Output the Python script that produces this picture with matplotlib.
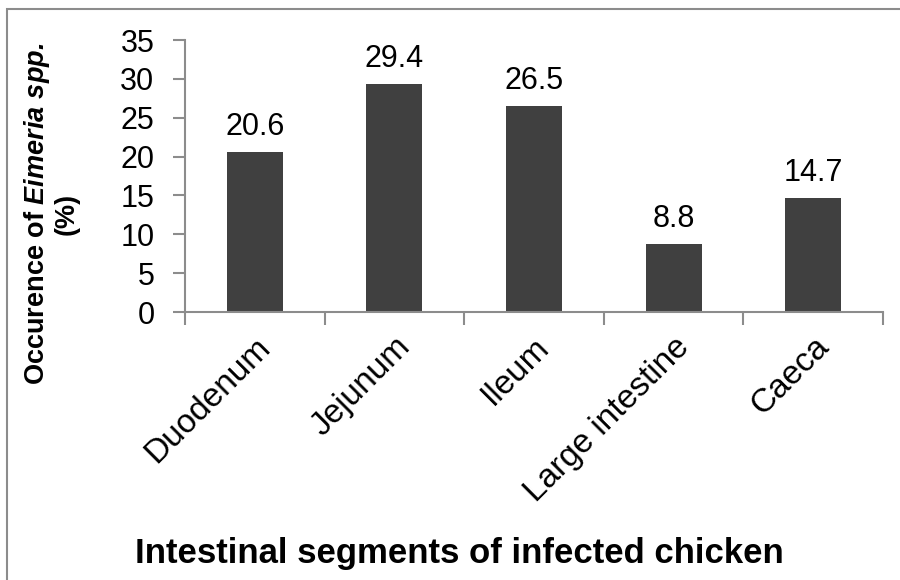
import matplotlib
matplotlib.use("Agg")
import matplotlib.pyplot as plt
from matplotlib.patches import Rectangle

# Dados
segmentos = ["Duodenum", "Jejunum", "Ileum", "Large intestine", "Caeca"]
ocorrencia = [20.6, 29.4, 26.5, 8.8, 14.7]
yticks = [0, 5, 10, 15, 20, 25, 30, 35]

plt.rcParams['font.family'] = ['Liberation Sans', 'DejaVu Sans']
plt.rcParams['mathtext.fontset'] = 'custom'
plt.rcParams['mathtext.rm'] = 'Liberation Sans:bold'
plt.rcParams['mathtext.bf'] = 'Liberation Sans:bold'
plt.rcParams['mathtext.bfit'] = 'Liberation Sans:bold:italic'
plt.rcParams['mathtext.it'] = 'Liberation Sans:bold:italic'

CINZA = '#8c8c8c'
BARRA = '#404040'

fig = plt.figure(figsize=(9, 5.8), dpi=100)
fig.patch.set_facecolor('white')

# moldura do gráfico (só aparecem topo e esquerda)
fig.add_artist(Rectangle((7/900, -0.05), 1.2, 1 - 9/580 + 0.05,
                         transform=fig.transFigure, fill=False,
                         edgecolor=CINZA, linewidth=1.5))

ax = fig.add_axes([185/900, 1 - 312/580, (883 - 185)/900, (312 - 40)/580])
pos = list(range(len(segmentos)))
ax.bar(pos, ocorrencia, width=0.4, color=BARRA, zorder=2)

for x, v in zip(pos, ocorrencia):
    ax.annotate(f"{v}", (x, v), xytext=(0, 7), textcoords='offset points',
                ha='center', va='bottom', fontsize=22)

ax.set_xlim(-0.5, len(segmentos) - 0.5)
ax.set_ylim(0, 35)
ax.set_yticks(yticks)
ax.tick_params(axis='y', length=9, color=CINZA, width=1.5, labelsize=22, pad=13)

# ticks do eixo x entre as categorias
ax.set_xticks([i - 0.5 for i in range(len(segmentos) + 1)], minor=False)
ax.set_xticklabels([])
ax.set_xticks(pos, minor=True)
ax.set_xticklabels(segmentos, minor=True, rotation=45, ha='right',
                   rotation_mode='anchor', fontsize=24)
ax.tick_params(axis='x', which='major', length=9, color=CINZA, width=1.5)
ax.tick_params(axis='x', which='minor', length=0, pad=14)

for s in ['top', 'right']:
    ax.spines[s].set_visible(False)
for s in ['left', 'bottom']:
    ax.spines[s].set_color(CINZA)
    ax.spines[s].set_linewidth(1.5)

fig.text(51/900, 1 - 214/580, "Occurence of $\\mathbfit{Eimeria\\ spp.}$\n(%)",
         rotation=90, ha='center', va='center', multialignment='center',
         fontsize=19.5, fontweight='bold', linespacing=1.05)
fig.text(459/900, 1 - 553/580, "Intestinal segments of infected chicken",
         ha='center', va='center', fontsize=25, fontweight='bold')

fig.savefig('out.png', dpi=100)
plt.close(fig)
